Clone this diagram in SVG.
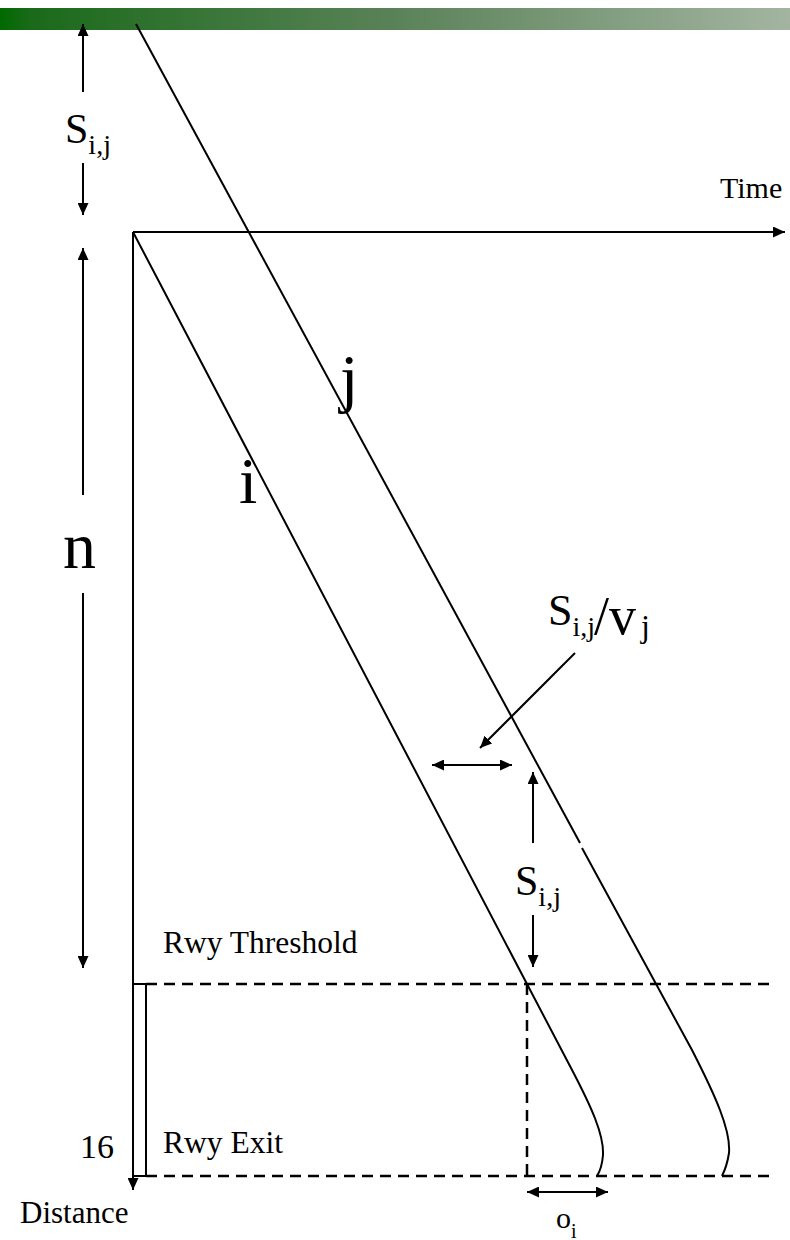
<svg xmlns="http://www.w3.org/2000/svg" width="790" height="1240" viewBox="0 0 790 1240">
<style>
.ln{fill:none;stroke:#000;stroke-width:2}
.ar{fill:none;stroke:#000;stroke-width:2;marker-end:url(#ah)}
.da{fill:none;stroke:#000;stroke-width:2;marker-start:url(#ah);marker-end:url(#ah)}
.dash{fill:none;stroke:#000;stroke-width:2.5;stroke-dasharray:11 7}
</style>
<defs>
<linearGradient id="bar" x1="0" y1="0" x2="1" y2="0">
<stop offset="0" stop-color="#006a00"/>
<stop offset="0.04" stop-color="#1a6a1a"/>
<stop offset="0.5" stop-color="#5a8258"/>
<stop offset="1" stop-color="#a3b5a1"/>
</linearGradient>
<marker id="ah" markerUnits="userSpaceOnUse" markerWidth="13" markerHeight="11" refX="12" refY="5.5" orient="auto-start-reverse">
<path d="M0,0 L12,5.5 L0,11 z" fill="#000"/>
</marker>
</defs>
<rect x="0" y="8" width="790" height="22" fill="url(#bar)"/>
<g id="connectors">
<path class="ar" d="M133 232 H785"/>
<path class="ar" d="M133 232 V1190"/>
<path class="ln" d="M136 24 L580 843"/>
<path class="ln" d="M582 848 L692 1050 C715 1095 731 1130 729 1153 Q727 1166 722 1176"/>
<path class="ln" d="M133 232 L571 1068 C592 1108 604 1135 603 1155 Q602 1168 597 1176"/>
<path class="dash" d="M146 984 H773"/>
<path class="dash" d="M146 1176 H773"/>
<path class="dash" d="M527 984 V1176"/>
<path class="ar" d="M83 92 V24"/>
<path class="ar" d="M83 163 V215"/>
<path class="ar" d="M83 495 V248"/>
<path class="ar" d="M83 593 V968"/>
<path class="ar" d="M533 843 V772"/>
<path class="ar" d="M533 915 V967"/>
<path class="ar" d="M575 653 L480 748"/>
<path class="da" d="M432 765 H512"/>
<path class="da" d="M527 1192 H608"/>
</g>
<g id="runway"><rect x="133" y="984" width="13" height="192" fill="none" stroke="#000" stroke-width="2"/></g>
<g id="labels" font-family="Liberation Serif, DejaVu Serif, serif" fill="#000">
<text x="720" y="198" font-size="30">Time</text>
<text x="20" y="1223" font-size="31">Distance</text>
<text x="163" y="953" font-size="31.5">Rwy Threshold</text>
<text x="163" y="1153" font-size="31.5">Rwy Exit</text>
<text x="80" y="1158" font-size="34">16</text>
<text x="63" y="568" font-size="66">n</text>
<text x="239" y="503" font-size="66">i</text>
<text x="340" y="400" font-size="66">j</text>
<text x="65" y="143" font-size="42">S<tspan dy="11" font-size="28">i,j</tspan></text>
<text x="515" y="895" font-size="42">S<tspan dy="11" font-size="28">i,j</tspan></text>
<g id="sv">
<text x="548" y="625" font-size="44">S<tspan dy="11" font-size="28">i,j</tspan></text>
<text x="594" y="634" font-size="54">/v</text>
<text x="641" y="637" font-size="32">j</text>
</g>
<text x="556" y="1228" font-size="30">o<tspan dy="10" font-size="20">i</tspan></text>
</g>
</svg>
